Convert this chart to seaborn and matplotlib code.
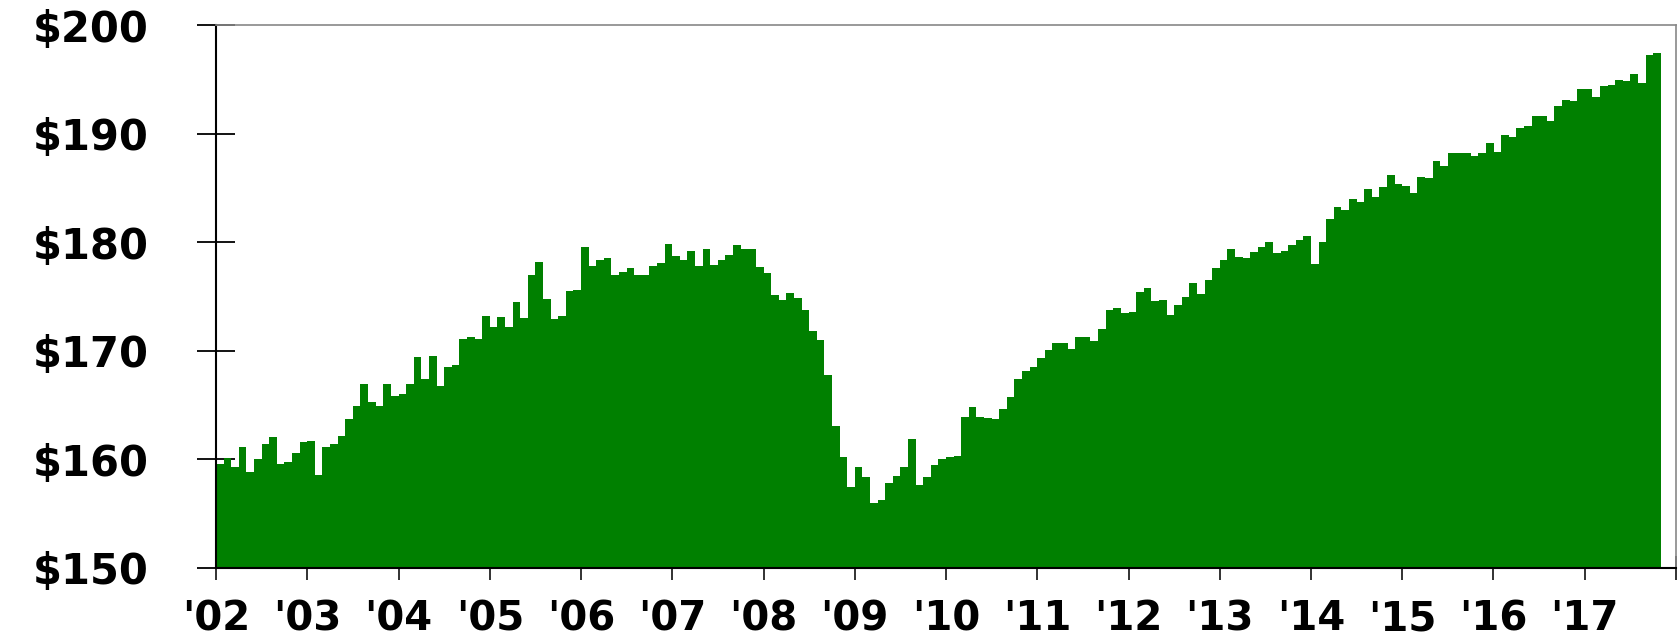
import numpy as np
import pandas as pd
import seaborn as sns
from matplotlib import pyplot as plt

# monthly values, Jan 2002 .. Oct 2017
y2002 = [159.6, 160.1, 159.3, 161.1, 158.8, 160.0, 161.4, 162.1, 159.6, 159.8, 160.6, 161.6]
y2003 = [161.7, 158.6, 161.1, 161.4, 162.2, 163.7, 164.9, 166.9, 165.3, 164.9, 166.9, 165.8]
y2004 = [166.0, 166.9, 169.4, 167.4, 169.5, 166.8, 168.5, 168.7, 171.1, 171.3, 171.1, 173.2]
y2005 = [172.2, 173.1, 172.2, 174.5, 173.0, 177.0, 178.2, 174.8, 172.9, 173.2, 175.5, 175.6]
y2006 = [179.6, 177.8, 178.4, 178.5, 177.0, 177.3, 177.6, 177.0, 177.0, 177.8, 178.1, 179.8]
y2007 = [178.7, 178.4, 179.2, 177.8, 179.4, 177.9, 178.4, 178.8, 179.7, 179.4, 179.4, 177.7]
y2008 = [177.2, 175.1, 174.7, 175.3, 174.9, 173.8, 171.8, 171.0, 167.8, 163.1, 160.2, 157.5]
y2009 = [159.3, 158.4, 156.0, 156.3, 157.8, 158.5, 159.3, 161.9, 157.6, 158.4, 159.5, 160.0]
y2010 = [160.2, 160.3, 163.9, 164.8, 163.9, 163.8, 163.7, 164.6, 165.7, 167.4, 168.1, 168.5]
y2011 = [169.3, 170.1, 170.7, 170.7, 170.2, 171.3, 171.3, 170.9, 172.0, 173.8, 173.9, 173.5]
y2012 = [173.6, 175.4, 175.8, 174.6, 174.7, 173.3, 174.2, 175.0, 176.2, 175.2, 176.5, 177.6]
y2013 = [178.4, 179.4, 178.6, 178.5, 179.1, 179.6, 180.0, 179.0, 179.2, 179.7, 180.2, 180.6]
y2014 = [178.0, 180.0, 182.1, 183.2, 183.0, 184.0, 183.7, 184.9, 184.2, 185.1, 186.2, 185.4]
y2015 = [185.2, 184.5, 186.0, 185.9, 187.5, 187.0, 188.2, 188.2, 188.2, 187.9, 188.2, 189.1]
y2016 = [188.3, 189.9, 189.7, 190.5, 190.7, 191.6, 191.6, 191.2, 192.5, 193.1, 193.0, 194.1]
y2017 = [194.1, 193.4, 194.4, 194.5, 194.9, 194.8, 195.5, 194.7, 197.2, 197.4]

years = ["'02", "'03", "'04", "'05", "'06", "'07", "'08", "'09",
         "'10", "'11", "'12", "'13", "'14", "'15", "'16", "'17"]
y_ticks = [150, 160, 170, 180, 190, 200]

values = (y2002 + y2003 + y2004 + y2005 + y2006 + y2007 + y2008 + y2009 +
          y2010 + y2011 + y2012 + y2013 + y2014 + y2015 + y2016 + y2017)
df = pd.DataFrame({'month': np.arange(len(values)), 'price': values})

sns.set_style('white')
plt.rcParams['font.family'] = ['DejaVu Sans']

fig = plt.figure(figsize=(16.79, 6.44), dpi=100)
ax = fig.add_axes([216 / 1679, 1 - 568 / 644, (1676 - 216) / 1679, (568 - 25) / 644])

sns.barplot(data=df, x='month', y='price', color='#008000', saturation=1,
            width=1.0, linewidth=0, ax=ax)

ax.set_ylim(150, 200)
ax.set_xlim(-0.5, 191.5)
ax.set_yticks(y_ticks)
ax.set_yticklabels(['$%d' % v for v in y_ticks], fontsize=30, fontweight='bold')
# one tick at the start of every year, plus one at the right edge
xt = [12 * i - 0.5 for i in range(len(years))] + [191.5]
ax.set_xticks(xt)
ax.set_xticklabels(years + [''], fontsize=29, fontweight='bold')
ax.set_xlabel('')
ax.set_ylabel('')

ax.tick_params(axis='y', left=True, direction='inout', length=27, width=1.3,
               pad=35, color='black', labelcolor='black')
ax.tick_params(axis='x', bottom=True, direction='inout', length=17, width=1.3,
               pad=14, color='#222222', labelcolor='black')

for s in ['left', 'bottom']:
    ax.spines[s].set_color('black')
    ax.spines[s].set_linewidth(1.5)
for s in ['top', 'right']:
    ax.spines[s].set_color('#888888')
    ax.spines[s].set_linewidth(1.2)
    ax.spines[s].set_visible(True)

fig.savefig('out.png', dpi=100)
